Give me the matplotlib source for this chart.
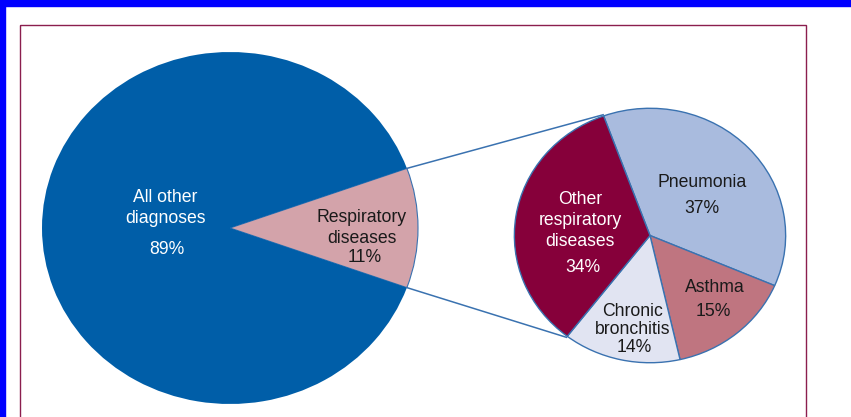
import numpy as np
import matplotlib
matplotlib.use("Agg")
import matplotlib.pyplot as plt
from matplotlib.patches import Rectangle

plt.rcParams['font.family'] = ['Liberation Sans', 'DejaVu Sans']

# ---- data ----
main_labels = ['Respiratory diseases', 'All other diagnoses']
main_values = [11, 89]
main_colors = ['#d3a3aa', '#005ea8']

resp_labels = ['Pneumonia', 'Asthma', 'Chronic bronchitis', 'Other respiratory diseases']
resp_values = [37, 15, 14, 34]
resp_colors = ['#a9bbde', '#bf7580', '#e1e4f2', '#86003a']

W, H = 851, 417
fig = plt.figure(figsize=(W / 100, H / 100), dpi=100)
fig.patch.set_facecolor('white')

edge_blue = '#3a72b0'
fs = 12.7


def pie_axes(cx, cy, rx, ry):
    # axes box in pixels -> figure fraction
    ax = fig.add_axes([(cx - rx) / W, (H - cy - ry) / H, 2 * rx / W, 2 * ry / H])
    return ax


# big pie
big = dict(cx=230, cy=228, rx=188, ry=176)
ax1 = pie_axes(**big)
start1 = -main_values[0] / sum(main_values) * 180
w1, _ = ax1.pie(main_values, colors=main_colors, startangle=start1, radius=1,
                wedgeprops=dict(linewidth=0))
w1[0].set_edgecolor(edge_blue)
w1[0].set_linewidth(0.8)
ax1.set_aspect('auto')
ax1.set_xlim(-1, 1)
ax1.set_ylim(-1, 1)
ax1.axis('off')

# small pie
small = dict(cx=650, cy=235.5, rx=137, ry=128.5)
ax2 = pie_axes(**small)
w2, _ = ax2.pie(resp_values, colors=resp_colors, startangle=110, counterclock=False,
                radius=1, wedgeprops=dict(linewidth=1.0, edgecolor=edge_blue))
ax2.set_aspect('auto')
ax2.set_xlim(-1.01, 1.01)
ax2.set_ylim(-1.01, 1.01)
ax2.axis('off')

# overlay in pixel coords
ov = fig.add_axes([0, 0, 1, 1], zorder=5)
ov.set_xlim(0, W)
ov.set_ylim(H, 0)
ov.axis('off')
ov.patch.set_alpha(0)


def edge_pt(p, ang):
    a = np.deg2rad(ang)
    return p['cx'] + p['rx'] * np.cos(a), p['cy'] - p['ry'] * np.sin(a)


# connector lines
x0, y0 = edge_pt(big, w1[0].theta2)
x1, y1 = edge_pt(small, w2[0].theta2)
ov.plot([x0, x1], [y0, y1], color=edge_blue, lw=1.1)
x0, y0 = edge_pt(big, w1[0].theta1)
x1, y1 = edge_pt(small, w2[3].theta2)
ov.plot([x0, x1], [y0, y1], color=edge_blue, lw=1.1)

# frames
ov.add_patch(Rectangle((20, 25), 786, 420, fill=False, edgecolor='#8b1e4e', lw=1.0))
fig.patches.append(Rectangle((0, 1 - 6 / H), 1, 6 / H, transform=fig.transFigure,
                             color='#0000ff', zorder=10))
fig.patches.append(Rectangle((0, 0), 5 / W, 1, transform=fig.transFigure,
                             color='#0000ff', zorder=10))

# labels
def lab(x, y, s, c):
    ov.text(x, y, s, ha='center', va='center', fontsize=fs, color=c)


lab(165, 197, 'All other', 'white')
lab(165, 218, 'diagnoses', 'white')
lab(167, 249, '89%', 'white')
lab(362, 217, 'Respiratory', '#1a1a1a')
lab(362, 238, 'diseases', '#1a1a1a')
lab(365, 257, '11%', '#1a1a1a')

lab(580, 199, 'Other', 'white')
lab(580, 220, 'respiratory', 'white')
lab(580, 241, 'diseases', 'white')
lab(583, 267, '34%', 'white')
lab(702, 182, 'Pneumonia', '#1a1a1a')
lab(702, 208, '37%', '#1a1a1a')
lab(715, 287, 'Asthma', '#1a1a1a')
lab(713, 312, '15%', '#1a1a1a')
lab(633, 312, 'Chronic', '#1a1a1a')
lab(633, 330, 'bronchitis', '#1a1a1a')
lab(634, 348, '14%', '#1a1a1a')

fig.savefig('out.png', dpi=100)
